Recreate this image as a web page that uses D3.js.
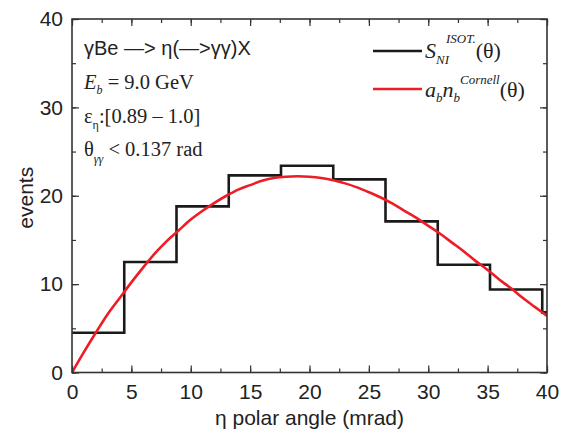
<!DOCTYPE html>
<html>
<head>
<meta charset="utf-8">
<script src="https://cdn.jsdelivr.net/npm/d3@7"></script>
<style>
  body { margin: 0; background: #fff; }
  svg text { fill: #222; }
  .tick-lbl { font-family: "Liberation Sans", Arial, sans-serif; font-size: 21px; }
  .serif { font-family: "Liberation Serif", "Times New Roman", serif; }
</style>
</head>
<body>
<div id="chart"></div>
<script>
// histogram bin edges (mrad) and counts
var binEdges = [0, 4.4, 8.8, 13.2, 17.6, 22.0, 26.4, 30.8, 35.2, 39.6, 40];
var binCounts = [4.5, 12.5, 18.8, 22.3, 23.4, 21.85, 17.1, 12.2, 9.4, 6.8];

// fitted curve
var curveTheta = [0, 1, 2, 3, 4, 5, 6, 7, 8, 9, 10, 11, 12, 13, 14, 15, 16, 17, 18, 19, 20,
                  21, 22, 23, 24, 25, 26, 27, 28, 29, 30, 31, 32, 33, 34, 35, 36, 37, 38, 39, 40];
var curveEvents = [0, 2.3, 4.5, 6.6, 8.4, 10.2, 11.9, 13.5, 14.9, 16.1, 17.3, 18.3, 19.2, 20.0, 20.7, 21.2, 21.7, 22.0, 22.15, 22.2, 22.15,
                   22.0, 21.75, 21.4, 20.95, 20.4, 19.8, 19.1, 18.3, 17.5, 16.6, 15.7, 14.7, 13.7, 12.6, 11.6, 10.5, 9.5, 8.4, 7.4, 6.4];

var xTicks = [0, 5, 10, 15, 20, 25, 30, 35, 40];
var yTicks = [0, 10, 20, 30, 40];

var width = 573, height = 434;
var margin = {left: 72, top: 19, right: 26, bottom: 61.5};
var w = width - margin.left - margin.right,
    h = height - margin.top - margin.bottom;

var svg = d3.select('#chart').append('svg')
    .attr('width', width)
    .attr('height', height);

var x = d3.scaleLinear().domain([0, 40]).range([0, w]);
var y = d3.scaleLinear().domain([0, 40]).range([h, 0]);

var g = svg.append('g')
    .attr('transform', 'translate(' + margin.left + ',' + margin.top + ')');

g.append('clipPath').attr('id', 'clip')
  .append('rect').attr('x', 0).attr('y', -2).attr('width', w).attr('height', h + 4);

// histogram
var stepPts = binEdges.map(function(e, i) {
    return [e, binCounts[Math.min(i, binCounts.length - 1)]];
});
g.append('path')
    .datum(stepPts)
    .attr('clip-path', 'url(#clip)')
    .attr('fill', 'none')
    .attr('stroke', '#1a1a1a')
    .attr('stroke-width', 2.6)
    .attr('d', d3.line().x(function(d) { return x(d[0]); })
                         .y(function(d) { return y(d[1]); })
                         .curve(d3.curveStepAfter));

// curve
g.append('path')
    .datum(curveTheta.map(function(t, i) { return [t, curveEvents[i]]; }))
    .attr('clip-path', 'url(#clip)')
    .attr('fill', 'none')
    .attr('stroke', '#ee1c25')
    .attr('stroke-width', 2.6)
    .attr('d', d3.line().x(function(d) { return x(d[0]); })
                         .y(function(d) { return y(d[1]); })
                         .curve(d3.curveMonotoneX));

// axes, ticks inward on all sides
function styleAxis(sel) {
    sel.select('.domain').remove();
    sel.selectAll('line').attr('stroke', '#333').attr('stroke-width', 1.2);
}
var xMinor = d3.range(0, 40.1, 2.5), yMinor = d3.range(0, 40.1, 5);

var xb = g.append('g').attr('transform', 'translate(0,' + h + ')')
    .call(d3.axisBottom(x).tickValues(xTicks).tickSize(-7).tickPadding(12).tickFormat(d3.format('d')));
xb.selectAll('text').attr('class', 'tick-lbl').attr('fill', '#222');
g.append('g').attr('transform', 'translate(0,' + h + ')')
    .call(d3.axisBottom(x).tickValues(xMinor).tickSize(-4).tickFormat(''))
    .call(styleAxis);
g.append('g')
    .call(d3.axisTop(x).tickValues(xMinor).tickSize(-4).tickFormat(''))
    .call(styleAxis);
g.append('g')
    .call(d3.axisTop(x).tickValues(xTicks).tickSize(-7).tickFormat(''))
    .call(styleAxis);
styleAxis(xb);

var yl = g.append('g')
    .call(d3.axisLeft(y).tickValues(yTicks).tickSize(-7).tickPadding(9).tickFormat(d3.format('d')));
yl.selectAll('text').attr('class', 'tick-lbl').attr('fill', '#222');
styleAxis(yl);
g.append('g')
    .call(d3.axisLeft(y).tickValues(yMinor).tickSize(-4).tickFormat(''))
    .call(styleAxis);
g.append('g').attr('transform', 'translate(' + w + ',0)')
    .call(d3.axisRight(y).tickValues(yMinor).tickSize(-4).tickFormat(''))
    .call(styleAxis);
g.append('g').attr('transform', 'translate(' + w + ',0)')
    .call(d3.axisRight(y).tickValues(yTicks).tickSize(-7).tickFormat(''))
    .call(styleAxis);

g.append('rect')
    .attr('width', w).attr('height', h)
    .attr('fill', 'none')
    .attr('stroke', '#333')
    .attr('stroke-width', 1.6);

// axis titles
svg.append('text')
    .attr('class', 'tick-lbl')
    .attr('x', margin.left + w / 2)
    .attr('y', 425)
    .attr('text-anchor', 'middle')
    .text('\u03b7 polar angle (mrad)');

svg.append('text')
    .attr('class', 'tick-lbl')
    .attr('transform', 'translate(33,' + (margin.top + h / 2 + 2) + ') rotate(-90)')
    .attr('text-anchor', 'middle')
    .text('events');

// annotation
var ann = svg.append('g').attr('transform', 'translate(84,0)');
ann.append('text')
    .attr('class', 'tick-lbl')
    .attr('y', 55)
    .style('font-size', '20px')
    .text('\u03b3Be \u2014> \u03b7(\u2014>\u03b3\u03b3)X');

var t2 = ann.append('text').attr('class', 'serif').attr('y', 89).style('font-size', '20.5px');
t2.append('tspan').style('font-style', 'italic').text('E');
t2.append('tspan').style('font-style', 'italic').style('font-size', '12px').attr('dy', 5).text('b');
t2.append('tspan').attr('dy', -5).text(' = 9.0 GeV');

var t3 = ann.append('text').attr('class', 'serif').attr('y', 123).style('font-size', '20.5px');
t3.append('tspan').text('\u03b5');
t3.append('tspan').style('font-size', '12px').attr('dy', 6).text('\u03b7');
t3.append('tspan').attr('dy', -6).text(':[0.89 \u2013 1.0]');

var t4 = ann.append('text').attr('class', 'serif').attr('y', 156).style('font-size', '20.5px');
t4.append('tspan').text('\u03b8');
t4.append('tspan').style('font-size', '12px').style('font-style', 'italic').attr('dy', 7).text('\u03b3\u03b3');
t4.append('tspan').attr('dy', -7).text(' < 0.137 rad');

// legend
var leg = svg.append('g');
leg.append('line').attr('x1', 373).attr('x2', 422).attr('y1', 51).attr('y2', 51)
    .attr('stroke', '#1a1a1a').attr('stroke-width', 2.6);
leg.append('line').attr('x1', 373).attr('x2', 422).attr('y1', 89).attr('y2', 89)
    .attr('stroke', '#ee1c25').attr('stroke-width', 2.6);

var l1 = leg.append('text').attr('class', 'serif').attr('x', 425).attr('y', 58).style('font-size', '22px');
l1.append('tspan').style('font-style', 'italic').text('S');
l1.append('tspan').style('font-style', 'italic').style('font-size', '13px').attr('dy', 6).text('NI');
l1.append('tspan').style('font-style', 'italic').style('font-size', '13px').attr('dx', -3).attr('dy', -21).text('ISOT.');
l1.append('tspan').attr('dy', 15).text('(\u03b8)');

var l2 = leg.append('text').attr('class', 'serif').attr('x', 425).attr('y', 97).style('font-size', '22px');
l2.append('tspan').style('font-style', 'italic').text('a');
l2.append('tspan').style('font-style', 'italic').style('font-size', '13px').attr('dy', 5).text('b');
l2.append('tspan').style('font-style', 'italic').attr('dy', -5).text('n');
l2.append('tspan').style('font-style', 'italic').style('font-size', '13px').attr('dy', 5).text('b');
l2.append('tspan').style('font-style', 'italic').style('font-size', '13px').attr('dy', -18).text('Cornell');
l2.append('tspan').attr('dy', 13).text('(\u03b8)');
</script>
</body>
</html>
